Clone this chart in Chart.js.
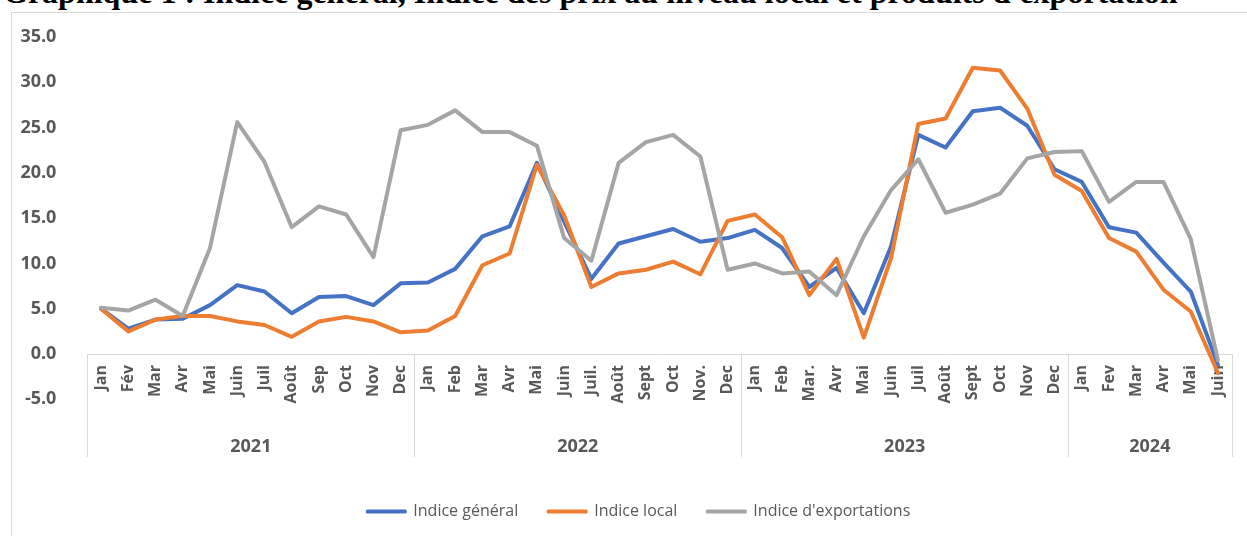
<!DOCTYPE html>
<html>
<head>
<meta charset="utf-8">
<script src="https://cdn.jsdelivr.net/npm/chart.js@4.4.1/dist/chart.umd.min.js"></script>
<style>
  html, body { margin: 0; padding: 0; background: #fff; overflow: hidden; }
  body { width: 1247px; height: 536px; position: relative; }
  #title { position: absolute; left: 3px; top: -24px; font: bold 32px 'Liberation Serif', 'Times New Roman', serif; line-height: 32px; white-space: nowrap; color: #000; }
  #frame { position: absolute; left: 11px; top: 12px; width: 1250px; height: 540px; border: 1px solid #d9d9d9; background: #fff; }
  #wrap { position: absolute; left: 0; top: 0; width: 1247px; height: 536px; }
</style>
</head>
<body>
<div id="title">Graphique 1 : Indice général, Indice des prix au niveau local et produits d'exportation</div>
<div id="frame"></div>
<div id="wrap"><canvas id="chart"></canvas></div>
<script>
// month labels, one per point (2021 -> juin 2024)
const months = [
  'Jan', 'Fév', 'Mar', 'Avr', 'Mai', 'Juin', 'Juil', 'Août', 'Sep', 'Oct', 'Nov', 'Dec',
  'Jan', 'Feb', 'Mar', 'Avr', 'Mai', 'Juin', 'Juil.', 'Août', 'Sept', 'Oct', 'Nov.', 'Dec',
  'Jan', 'Feb', 'Mar.', 'Avr', 'Mai', 'Juin', 'Juil', 'Août', 'Sept', 'Oct', 'Nov', 'Dec',
  'Jan', 'Fev', 'Mar', 'Avr', 'Mai', 'Juin'
];
const years = ['2021', '2022', '2023', '2024'];
const monthsPerYear = [12, 12, 12, 6];

const indiceGeneral = [
  5.0, 2.8, 3.8, 3.9, 5.4, 7.6, 6.9, 4.5, 6.3, 6.4, 5.4, 7.8,
  7.9, 9.4, 13.0, 14.1, 21.1, 14.6, 8.3, 12.2, 13.0, 13.8, 12.4, 12.8,
  13.7, 11.7, 7.4, 9.5, 4.5, 11.9, 24.2, 22.8, 26.8, 27.2, 25.2, 20.4,
  19.0, 14.0, 13.4, 10.1, 6.9, -1.2
];
const indiceLocal = [
  5.0, 2.5, 3.8, 4.2, 4.2, 3.6, 3.2, 1.9, 3.6, 4.1, 3.6, 2.4,
  2.6, 4.2, 9.8, 11.1, 20.9, 15.3, 7.4, 8.9, 9.3, 10.2, 8.8, 14.7,
  15.4, 12.9, 6.5, 10.5, 1.8, 10.6, 25.4, 26.0, 31.6, 31.3, 27.1, 19.8,
  18.0, 12.8, 11.3, 7.1, 4.7, -2.1
];
const indiceExport = [
  5.1, 4.8, 6.0, 4.2, 11.7, 25.6, 21.2, 14.0, 16.3, 15.4, 10.7, 24.7,
  25.3, 26.9, 24.5, 24.5, 23.0, 12.8, 10.3, 21.1, 23.4, 24.2, 21.8, 9.3,
  10.0, 8.9, 9.1, 6.5, 13.0, 18.1, 21.5, 15.6, 16.5, 17.7, 21.6, 22.3,
  22.4, 16.8, 19.0, 19.0, 12.7, -0.7
];

const yMin = -5, yMax = 35, yStep = 5;

// centre of each year group and the boundaries between groups, in month index units
const yearCenters = [];
const yearEdges = [-0.5];
let start = 0;
monthsPerYear.forEach(n => {
  yearCenters.push(start + (n - 1) / 2);
  start += n;
  yearEdges.push(start - 0.5);
});

const textGray = '#595959';
const lineGray = '#d9d9d9';

Chart.defaults.font.family = "'Open Sans', sans-serif";
Chart.defaults.color = textGray;

// vertical separators of the two-level category axis
const yearSeparators = {
  id: 'yearSeparators',
  beforeDatasetsDraw(chart) {
    const { ctx, scales } = chart;
    const top = scales.y.getPixelForValue(0);
    ctx.save();
    ctx.strokeStyle = lineGray;
    ctx.lineWidth = 1;
    yearEdges.forEach(v => {
      const x = Math.round(scales.years.getPixelForValue(v)) + 0.5;
      ctx.beginPath();
      ctx.moveTo(x, top);
      ctx.lineTo(x, 457);
      ctx.stroke();
    });
    ctx.restore();
  }
};

// the legend sits a little right of the canvas centre in the original
const legendShift = {
  id: 'legendShift',
  afterLayout(chart) {
    chart.legend.left += 23;
    chart.legend.right += 23;
  }
};

new Chart(document.getElementById('chart'), {
  type: 'line',
  data: {
    labels: months,
    datasets: [
      { label: 'Indice général', data: indiceGeneral, borderColor: '#4472C4', backgroundColor: '#4472C4', order: 3 },
      { label: 'Indice local', data: indiceLocal, borderColor: '#ED7D31', backgroundColor: '#ED7D31', order: 2 },
      { label: "Indice d'exportations", data: indiceExport, borderColor: '#A5A5A5', backgroundColor: '#A5A5A5', order: 1 }
    ]
  },
  options: {
    responsive: true,
    maintainAspectRatio: false,
    animation: false,
    datasets: {
      line: {
        borderWidth: 4,
        tension: 0,
        pointRadius: 0,
        borderJoinStyle: 'round',
        borderCapStyle: 'round'
      }
    },
    layout: { padding: { left: 0, right: 15.4, top: 37, bottom: 6.5 } },
    plugins: {
      tooltip: { enabled: false },
      legend: {
        position: 'bottom',
        labels: {
          boxWidth: 38,
          boxHeight: 1,
          padding: 30,
          font: { size: 16 },
          color: textGray,
          sort: (a, b) => a.datasetIndex - b.datasetIndex,
          generateLabels: chart =>
            Chart.defaults.plugins.legend.labels.generateLabels(chart).map(l => ({ ...l, lineWidth: 3 }))
        }
      }
    },
    scales: {
      x: {
        type: 'category',
        position: { y: 0 },
        offset: true,
        grid: { display: false },
        border: { display: true, color: lineGray },
        ticks: {
          autoSkip: false,
          minRotation: 90,
          maxRotation: 90,
          padding: 3,
          font: { size: 16, weight: 'bold' },
          color: textGray
        }
      },
      years: {
        type: 'linear',
        axis: 'x',
        position: 'bottom',
        min: yearEdges[0],
        max: yearEdges[yearEdges.length - 1],
        afterBuildTicks: s => { s.ticks = yearCenters.map(v => ({ value: v })); },
        afterFit: s => { s.height = 74.2; },
        grid: { display: false },
        border: { display: false },
        ticks: {
          autoSkip: false,
          maxRotation: 0,
          padding: 29,
          font: { size: 18, weight: 'bold' },
          color: textGray,
          callback: v => years[yearCenters.indexOf(v)]
        }
      },
      y: {
        min: yMin,
        max: yMax,
        afterFit: s => { s.width = 87.4; },
        grid: { display: false },
        border: { display: false },
        ticks: {
          stepSize: yStep,
          padding: 23,
          font: { size: 18, weight: 'bold' },
          color: textGray,
          callback: v => v.toFixed(1)
        }
      }
    }
  },
  plugins: [yearSeparators, legendShift]
});
</script>
</body>
</html>
